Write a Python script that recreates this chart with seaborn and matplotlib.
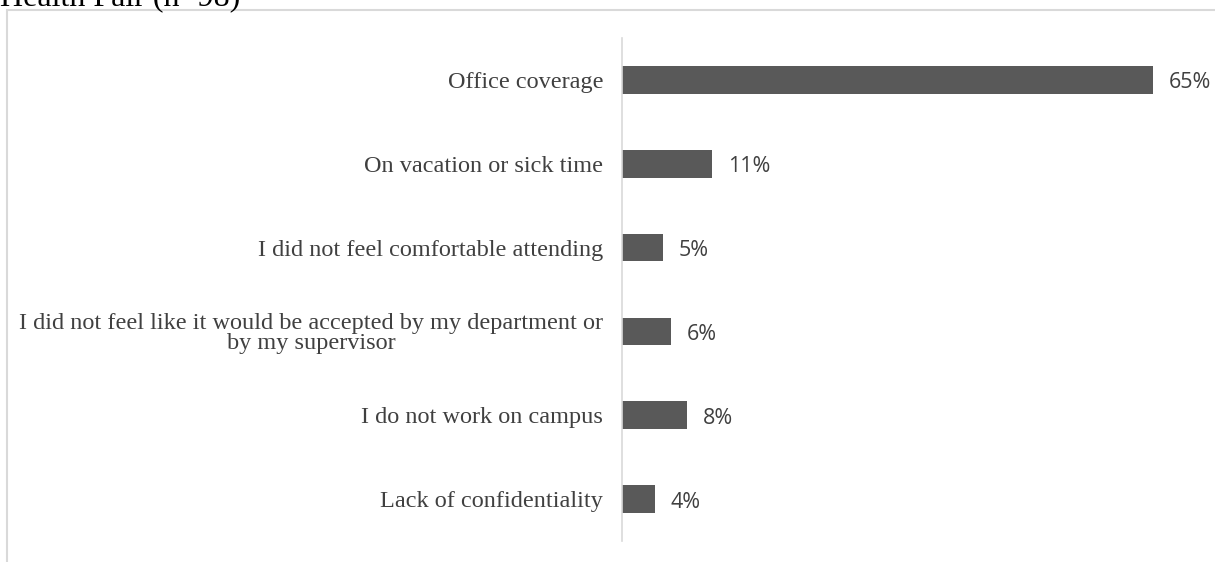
import matplotlib
matplotlib.use("Agg")
import matplotlib.pyplot as plt
import matplotlib.patches as mpatches
import seaborn as sns
import pandas as pd

# Reasons for not attending, share of respondents (%)
reasons = [
    "Office coverage",
    "On vacation or sick time",
    "I did not feel comfortable attending",
    "I did not feel like it would be accepted by my department or\nby my supervisor",
    "I do not work on campus",
    "Lack of confidentiality",
]
percent = [65, 11, 5, 6, 8, 4]
title = "Health Fair (n=98)"

df = pd.DataFrame({"reason": reasons, "percent": percent})

sns.set_theme(style="white")
plt.rcParams["font.family"] = ["Liberation Serif", "DejaVu Serif"]

W, H = 1215, 562
fig = plt.figure(figsize=(W / 100, H / 100), dpi=100)
fig.patch.set_facecolor("white")

# light frame around the chart area
frame = mpatches.Rectangle((7 / W, -0.1), 1.2, 1 - 10 / H + 0.1,
                           transform=fig.transFigure, fill=False,
                           edgecolor="#d9d9d9", linewidth=1.5, zorder=0)
fig.patches.append(frame)

fig.text(0 / W, 1 - 5 / H, title, fontsize=23, color="black",
         ha="left", va="baseline", family=["Liberation Serif"])

px_per_pct = 8.17
xmax = 70
left_px, top_px, bottom_px = 622, 38, 541
ax = fig.add_axes([left_px / W, (H - bottom_px) / H,
                   xmax * px_per_pct / W, (bottom_px - top_px) / H])

sns.barplot(data=df, x="percent", y="reason", orient="h", ax=ax,
            color="#595959", width=0.33, saturation=1, edgecolor="none")

ax.set_xlim(0, xmax)
ax.set_xlabel("")
ax.set_ylabel("")
ax.set_xticks([])
for s in ["top", "right", "bottom"]:
    ax.spines[s].set_visible(False)
ax.spines["left"].set_color("#d9d9d9")
ax.spines["left"].set_linewidth(1.2)
ax.tick_params(axis="y", length=0, pad=13.5)
for lbl in ax.get_yticklabels():
    lbl.set_fontsize(17.5)
    lbl.set_color("#404040")
    lbl.set_multialignment("center")
    lbl.set_linespacing(0.95)

for i, v in enumerate(percent):
    ax.annotate(f"{v}%", xy=(v, i), xytext=(16, -3), textcoords="offset pixels",
                ha="left", va="center", fontsize=15.5, color="#404040",
                family=["Open Sans", "DejaVu Sans"])

fig.savefig("out.png", dpi=100, facecolor="white")
